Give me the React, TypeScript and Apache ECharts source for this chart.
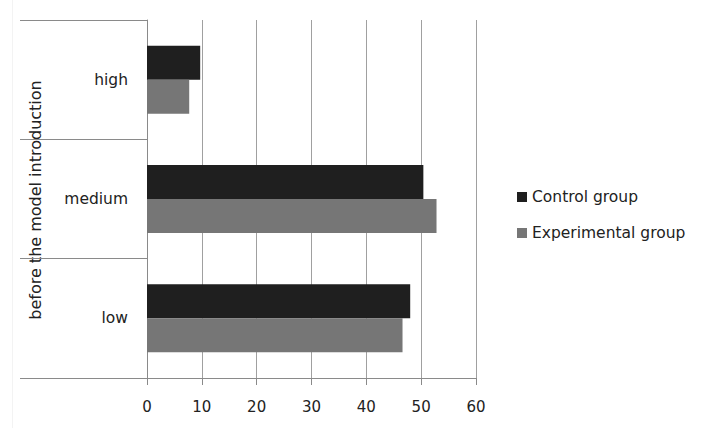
import React, { useEffect, useRef } from "react";
import * as echarts from "echarts";

const categories = ["low", "medium", "high"];
const controlValues = [48.0, 50.4, 9.7];
const experimentalValues = [46.6, 52.8, 7.7];
const seriesNames = ["Control group", "Experimental group"];
const groupLabel = "before the model introduction";

export default function App() {
  const ref = useRef<HTMLDivElement>(null);
  useEffect(() => {
    if (!ref.current) return;
    const chart = echarts.init(ref.current, null, { renderer: "svg" });
    const font = "DejaVu Sans";
    chart.setOption({
      animation: false,
      backgroundColor: "#ffffff",
      textStyle: { fontFamily: font },
      grid: { left: 147, right: 235, top: 20, bottom: 50, containLabel: false },
      legend: {
        orient: "vertical",
        left: 512,
        top: 184,
        itemWidth: 10,
        itemHeight: 10,
        itemGap: 20,
        icon: "rect",
        textStyle: { fontFamily: font, fontSize: 15.5, color: "#222" },
        data: seriesNames,
      },
      xAxis: {
        type: "value",
        min: 0,
        max: 60,
        interval: 10,
        axisLine: { show: true, lineStyle: { color: "#8a8a8a", width: 1 } },
        axisTick: { show: true, length: 7, lineStyle: { color: "#8a8a8a" } },
        splitLine: { show: true, lineStyle: { color: "#a0a0a0", width: 1 } },
        axisLabel: { margin: 21, fontFamily: font, fontSize: 15, color: "#222" },
      },
      yAxis: {
        type: "category",
        data: categories,
        axisLine: { show: true, lineStyle: { color: "#8a8a8a", width: 1 } },
        axisTick: { show: true, length: 127, lineStyle: { color: "#8a8a8a" } },
        axisLabel: { margin: 19, fontFamily: font, fontSize: 15.5, color: "#222" },
        splitLine: { show: false },
      },
      graphic: [
        {
          type: "text",
          x: 35,
          y: 200,
          rotation: Math.PI / 2,
          style: {
            text: groupLabel,
            fontFamily: font,
            fontSize: 16,
            fill: "#222",
            align: "center",
            verticalAlign: "middle",
          },
        },
        {
          type: "line",
          shape: { x1: 12.5, y1: 0, x2: 12.5, y2: 428 },
          style: { stroke: "#f3f3f3", lineWidth: 1 },
        },
      ],
      series: [
        {
          name: seriesNames[0],
          type: "bar",
          data: controlValues,
          itemStyle: { color: "#1f1f1f" },
          barGap: "0%",
          barCategoryGap: "43%",
        },
        {
          name: seriesNames[1],
          type: "bar",
          data: experimentalValues,
          itemStyle: { color: "#767676" },
          barGap: "0%",
          barCategoryGap: "43%",
        },
      ],
    });
    return () => chart.dispose();
  }, []);
  return <div ref={ref} style={{ width: 711, height: 428, position: "absolute", left: 0, top: 0 }} />;
}
